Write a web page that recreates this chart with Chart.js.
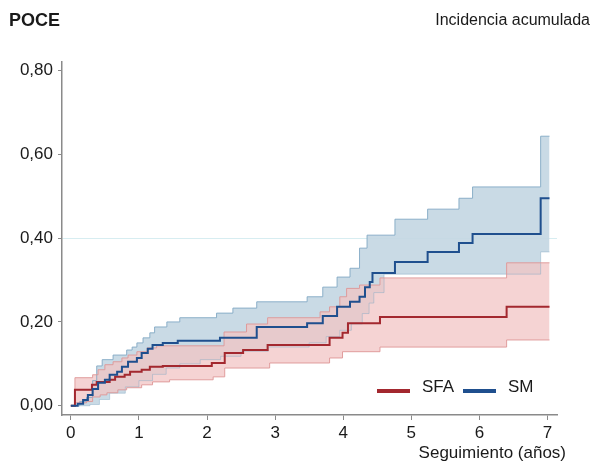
<!DOCTYPE html>
<html>
<head>
<meta charset="utf-8">
<script src="https://cdn.jsdelivr.net/npm/chart.js@4.4.1/dist/chart.umd.min.js"></script>
<style>
    html, body { margin: 0; padding: 0; background: #ffffff; }
    #wrap { width: 604px; height: 465px; position: relative; }
</style>
</head>
<body>
<div id="wrap"><canvas id="poceChart"></canvas></div>
<script>
// follow-up in years and cumulative incidence, one set per group
const seriesNames = ["SFA", "SM"];

const smTime = [0, 0.10, 0.18, 0.25, 0.32, 0.40, 0.50, 0.57, 0.68, 0.75, 0.84, 0.97, 1.04, 1.13, 1.20, 1.35, 1.57, 2.19, 2.73, 3.47, 3.70, 3.91, 4.10, 4.24, 4.32, 4.39, 4.43, 4.76, 5.24, 5.70, 5.90, 6.90, 7.03];
const smValue = [0, 0.005, 0.014, 0.026, 0.04, 0.055, 0.062, 0.074, 0.081, 0.093, 0.105, 0.114, 0.126, 0.136, 0.145, 0.15, 0.155, 0.162, 0.188, 0.197, 0.214, 0.236, 0.248, 0.26, 0.283, 0.295, 0.317, 0.343, 0.367, 0.388, 0.41, 0.495, 0.495];

const smUpperTime = [0, 0.13, 0.23, 0.32, 0.38, 0.46, 0.62, 0.82, 0.90, 0.97, 1.06, 1.16, 1.23, 1.41, 1.60, 2.14, 2.38, 2.73, 3.47, 3.70, 3.91, 4.10, 4.24, 4.35, 4.76, 5.24, 5.70, 5.90, 6.90, 7.03];
const smUpper = [0, 0.01, 0.02, 0.06, 0.095, 0.11, 0.121, 0.133, 0.14, 0.15, 0.162, 0.174, 0.188, 0.2, 0.21, 0.221, 0.233, 0.248, 0.26, 0.283, 0.307, 0.328, 0.376, 0.407, 0.445, 0.469, 0.495, 0.522, 0.643, 0.643];

const smLowerTime = [0, 0.28, 0.42, 0.57, 0.80, 1.00, 1.20, 1.40, 1.60, 1.90, 2.20, 2.50, 2.90, 3.50, 3.75, 3.95, 4.12, 4.28, 4.38, 4.45, 4.60, 6.90, 7.03];
const smLower = [0, 0.003, 0.015, 0.03, 0.045, 0.06, 0.075, 0.09, 0.1, 0.11, 0.118, 0.13, 0.14, 0.15, 0.165, 0.18, 0.195, 0.22, 0.245, 0.27, 0.314, 0.367, 0.367];

const sfaTime = [0, 0.06, 0.31, 0.38, 0.57, 0.65, 0.79, 0.87, 1.04, 1.16, 1.35, 2.07, 2.26, 2.53, 2.89, 3.80, 3.99, 4.07, 4.54, 6.40, 7.03];
const sfaValue = [0, 0.038, 0.05, 0.057, 0.062, 0.069, 0.074, 0.081, 0.086, 0.093, 0.095, 0.102, 0.126, 0.133, 0.145, 0.162, 0.174, 0.197, 0.212, 0.236, 0.236];

const sfaUpperTime = [0, 0.06, 0.32, 0.40, 0.50, 0.62, 0.75, 0.84, 0.97, 1.12, 1.26, 2.25, 2.58, 2.89, 3.66, 3.80, 3.95, 4.05, 4.24, 4.54, 6.40, 7.03];
const sfaUpper = [0, 0.067, 0.074, 0.086, 0.098, 0.105, 0.114, 0.121, 0.129, 0.138, 0.143, 0.176, 0.195, 0.21, 0.224, 0.236, 0.26, 0.28, 0.288, 0.305, 0.341, 0.341];

const sfaLowerTime = [0, 0.06, 0.23, 0.32, 0.43, 0.53, 0.69, 0.82, 1.04, 1.20, 1.45, 2.09, 2.26, 2.92, 3.80, 3.99, 4.54, 6.40, 7.03];
const sfaLower = [0, 0.007, 0.01, 0.021, 0.026, 0.031, 0.038, 0.043, 0.05, 0.057, 0.062, 0.069, 0.09, 0.102, 0.114, 0.129, 0.14, 0.157, 0.157];

const xTicks = [0, 1, 2, 3, 4, 5, 6, 7];
const yTicks = [0, 0.2, 0.4, 0.6, 0.8];

const fontFamily = "'Liberation Sans', Arial, Helvetica, sans-serif";
const textColor = "#1a1a1a";
const axisColor = "#8a8a8a";
const redLine = "#a3282f";
const blueLine = "#1f4f8e";

function toPoints(times, values) {
    return times.map((t, i) => ({ x: t, y: values[i] }));
}

// each value holds until the next event time (step-before)
function stepLine(label, times, values, color, width, order, fill, bg) {
    return {
        label: label,
        data: toPoints(times, values),
        stepped: "before",
        borderColor: color,
        borderWidth: width,
        pointRadius: 0,
        pointHoverRadius: 0,
        fill: fill || false,
        backgroundColor: bg || "transparent",
        order: order,
    };
}

// headers, axis caption and the small legend inside the plot
const annotations = {
    id: "annotations",
    afterDraw(chart) {
        const ctx = chart.ctx;
        const area = chart.chartArea;
        ctx.save();
        ctx.fillStyle = textColor;
        ctx.textBaseline = "middle";

        ctx.font = "bold 18px " + fontFamily;
        ctx.textAlign = "left";
        ctx.fillText("POCE", 9, 21);

        ctx.font = "16px " + fontFamily;
        ctx.textAlign = "right";
        ctx.fillText("Incidencia acumulada", 590, 21);

        ctx.font = "17px " + fontFamily;
        ctx.textAlign = "right";
        ctx.fillText("Seguimiento (años)", 566, 453);

        const ly = area.bottom - 25;
        const items = [
            { name: seriesNames[0], color: chart.data.datasets[1].borderColor, x: area.right - 180 },
            { name: seriesNames[1], color: chart.data.datasets[0].borderColor, x: area.right - 94 },
        ];
        items.forEach((it) => {
            ctx.strokeStyle = it.color;
            ctx.lineWidth = 4;
            ctx.beginPath();
            ctx.moveTo(it.x, ly + 1);
            ctx.lineTo(it.x + 33, ly + 1);
            ctx.stroke();
            ctx.textAlign = "left";
            ctx.font = "17px " + fontFamily;
            ctx.fillText(it.name, it.x + 45, ly - 3);
        });
        ctx.restore();
    },
};

const ctx = document.getElementById("poceChart").getContext("2d");
new Chart(ctx, {
    type: "line",
    data: {
        datasets: [
            stepLine(seriesNames[1], smTime, smValue, blueLine, 2, 0),
            stepLine(seriesNames[0], sfaTime, sfaValue, redLine, 2, 1),
            stepLine("SFA sup", sfaUpperTime, sfaUpper, "rgba(222,150,150,0.9)", 1, 2, "+1", "rgba(242,196,196,0.75)"),
            stepLine("SFA inf", sfaLowerTime, sfaLower, "rgba(222,150,150,0.9)", 1, 3),
            stepLine("SM sup", smUpperTime, smUpper, "rgba(130,168,196,0.9)", 1, 4, "+1", "rgba(198,216,228,0.95)"),
            stepLine("SM inf", smLowerTime, smLower, "rgba(130,168,196,0.45)", 1, 5),
        ],
    },
    options: {
        responsive: true,
        maintainAspectRatio: false,
        animation: false,
        layout: {
            padding: { top: 62, right: 47, bottom: 0, left: 0 },
        },
        plugins: {
            legend: { display: false },
            tooltip: { enabled: false },
            filler: { drawTime: "beforeDatasetsDraw" },
        },
        scales: {
            x: {
                type: "linear",
                min: -0.13,
                max: 7.14,
                afterBuildTicks: (axis) => {
                    axis.ticks = xTicks.map((v) => ({ value: v }));
                },
                afterFit: (axis) => {
                    axis.height = 50;
                },
                border: { display: true, color: axisColor, width: 1.5 },
                grid: {
                    drawOnChartArea: false,
                    drawTicks: true,
                    tickLength: 5,
                    tickColor: axisColor,
                },
                ticks: {
                    color: textColor,
                    padding: 3,
                    maxRotation: 0,
                    font: { family: fontFamily, size: 17 },
                    callback: (value) => String(value),
                },
            },
            y: {
                type: "linear",
                min: -0.022,
                max: 0.82,
                afterBuildTicks: (axis) => {
                    axis.ticks = yTicks.map((v) => ({ value: v }));
                },
                afterFit: (axis) => {
                    axis.width = 62;
                },
                border: { display: true, color: axisColor, width: 1.5 },
                grid: {
                    drawTicks: true,
                    tickLength: 4,
                    tickColor: axisColor,
                    color: (c) => (c.tick && c.tick.value === 0.4 ? "rgba(205,232,238,0.8)" : "transparent"),
                },
                ticks: {
                    color: textColor,
                    padding: 5,
                    font: { family: fontFamily, size: 17 },
                    callback: (value) => value.toFixed(2).replace(".", ","),
                },
            },
        },
    },
    plugins: [annotations],
});
</script>
</body>
</html>
